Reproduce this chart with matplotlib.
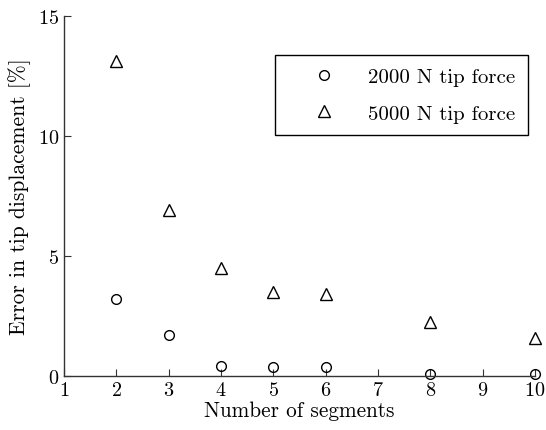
import matplotlib

matplotlib.use("Agg")
import matplotlib.pyplot as plt  # noqa: E402

plt.rcParams["font.family"] = "serif"
plt.rcParams["font.serif"] = ["cmr10", "DejaVu Serif"]
plt.rcParams["mathtext.fontset"] = "cm"
plt.rcParams["axes.formatter.use_mathtext"] = True

# Segmente und Fehler der Spitzenverschiebung in %
segments = [2, 3, 4, 5, 6, 8, 10]
err_2000 = [3.2, 1.7, 0.42, 0.38, 0.38, 0.08, 0.1]
err_5000 = [13.1, 6.9, 4.5, 3.5, 3.4, 2.25, 1.6]

fig = plt.figure(figsize=(5.46, 4.31), dpi=100)
ax = fig.add_axes([0.117, 0.125, 0.8626, 0.836])

ax.plot(segments, err_2000, "o", mfc="none", mec="black", ms=7, mew=1.0,
        label="2000 N tip force", clip_on=False)
ax.plot(segments, err_5000, "^", mfc="none", mec="black", ms=8, mew=1.0,
        label="5000 N tip force", clip_on=False)

ax.set_xlim(1, 10)
ax.set_ylim(0, 15)
ax.set_xticks(range(1, 11))
ax.set_yticks([0, 5, 10, 15])
ax.spines["top"].set_visible(False)
ax.spines["right"].set_visible(False)
for s in ("left", "bottom"):
    ax.spines[s].set_color("#333333")
    ax.spines[s].set_linewidth(1.0)
ax.tick_params(direction="in", length=5, labelsize=14.5, colors="#333333",
               labelcolor="black")

ax.set_xlabel("Number of segments", fontsize=15.3, labelpad=1)
ax.set_ylabel("Error in tip displacement [%]", fontsize=15.5, labelpad=5)

leg = ax.legend(loc="upper right", bbox_to_anchor=(0.985, 0.892), fontsize=15,
                fancybox=False, edgecolor="black", framealpha=1,
                borderaxespad=0, borderpad=0.62, labelspacing=0.85,
                handletextpad=0.38, handlelength=3.45)
leg.get_frame().set_linewidth(1.0)

fig.savefig("out.png", facecolor="white")
